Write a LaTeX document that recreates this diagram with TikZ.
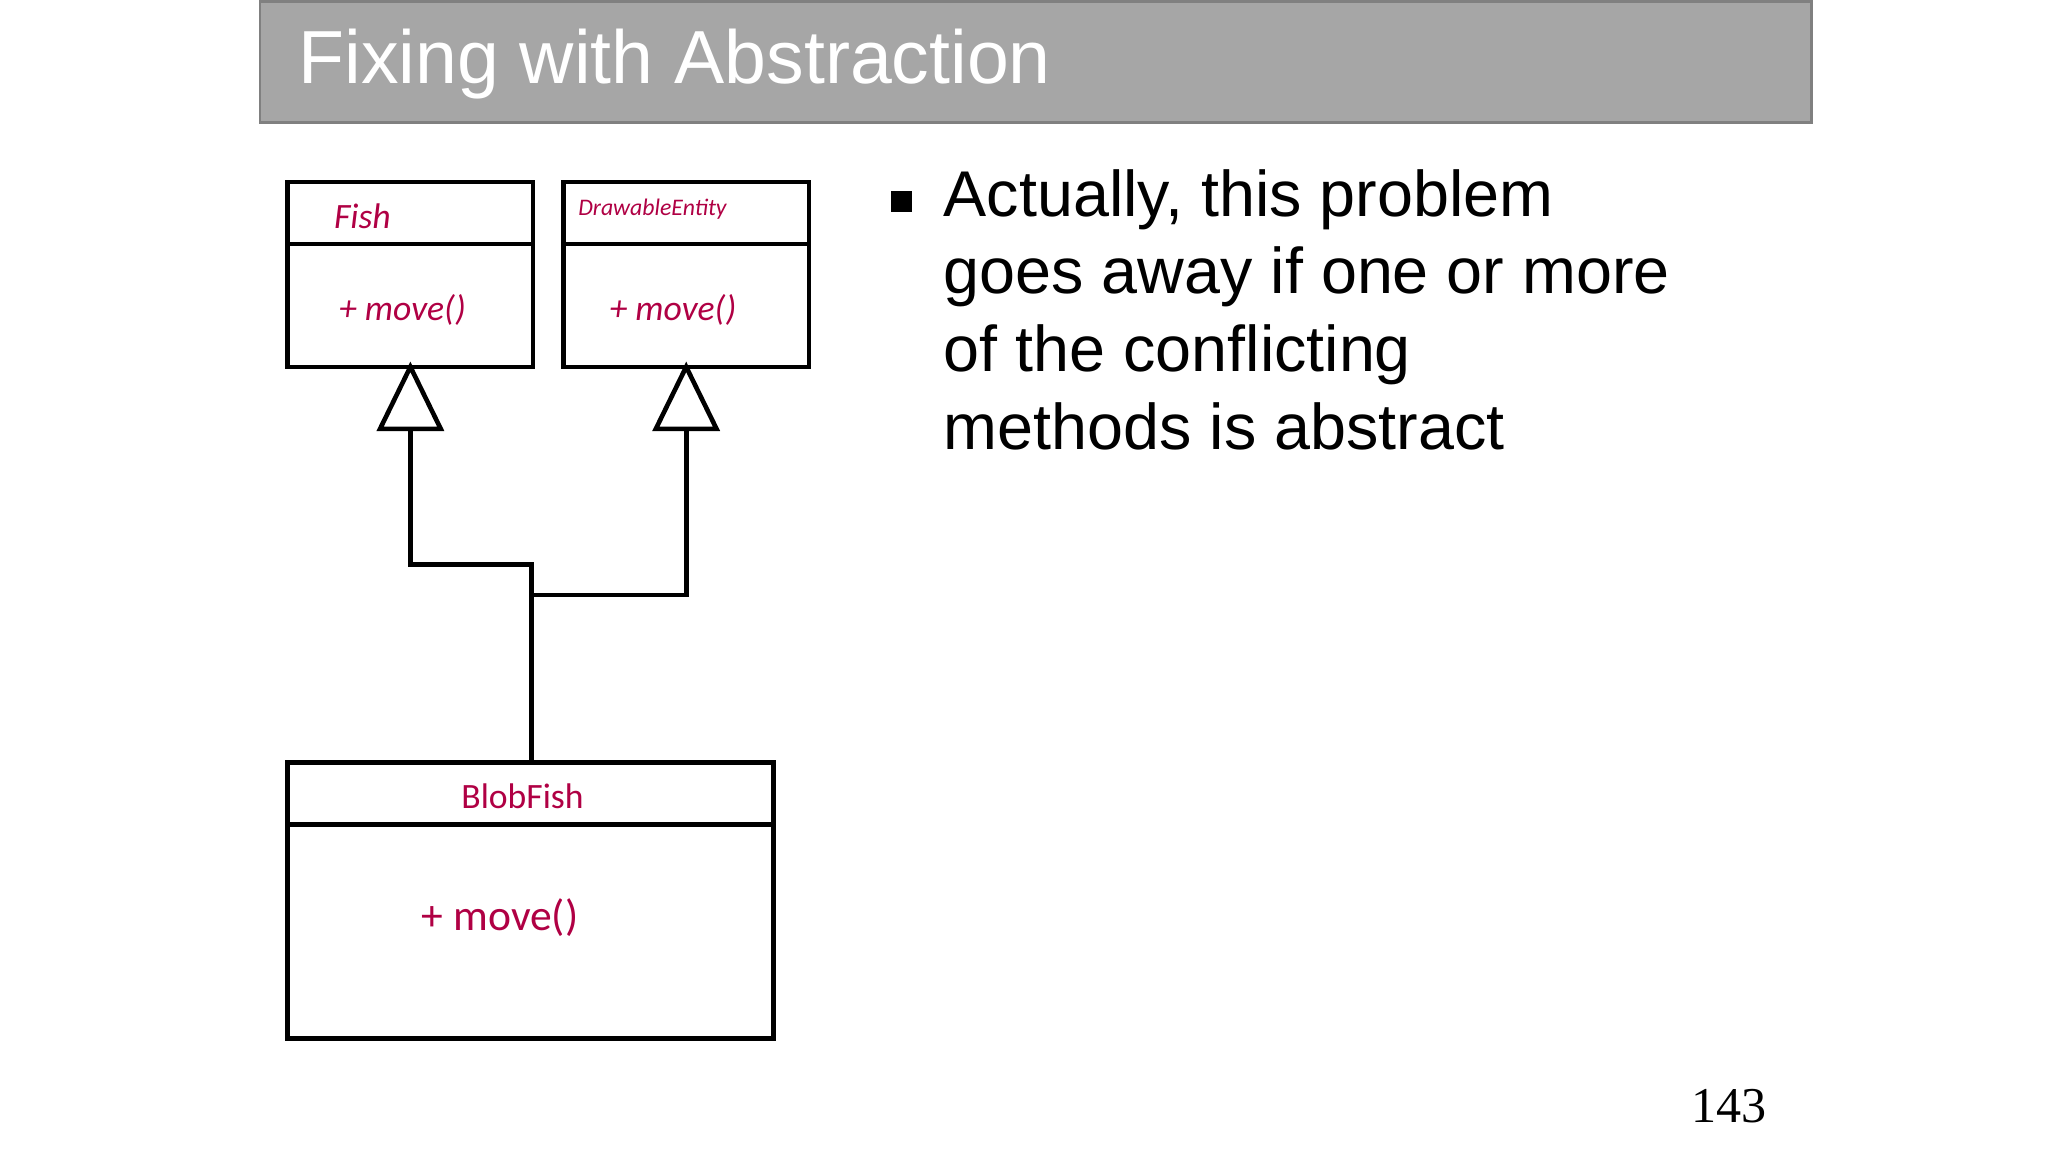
\documentclass[tikz,border=0pt]{standalone}
\usepackage{fontspec}
\setmainfont{Liberation Sans}
\newfontfamily\umlfont{Carlito}
\newfontfamily\serifnum{Liberation Serif}
\definecolor{umlred}{RGB}{176,0,68}
\definecolor{bar}{RGB}{166,166,166}
\definecolor{barline}{RGB}{128,128,128}
\begin{document}
\begin{tikzpicture}[x=1pt,y=-1pt,
  cls/.style={draw=black,line width=3.5pt,minimum width=#1,inner sep=0pt},
  lbl/.style={text=umlred,font=\umlfont,inner sep=0pt},
  conn/.style={draw=black,line width=3.5pt},
  tri/.style={draw=black,line width=3.5pt,fill=white,line join=miter}]
\useasboundingbox (0,0) rectangle (1552,873);
\fill[white] (0,0) rectangle (1552,873);
% title bar
\node[fill=bar,draw=barline,line width=2pt,minimum width=1176pt,minimum height=92pt,anchor=north west,inner sep=0pt] (bar) at (196,0) {};
\node[anchor=base west,text=white,font=\fontsize{57}{60}\selectfont,inner sep=0pt] (title) at (226,63) {Fixing with Abstraction};
% boxes
\draw[cls] (218,138) rectangle (404,278);
\draw[cls] (218,185) -- (404,185);
\draw[cls] (427,138) rectangle (613,278);
\draw[cls] (427,185) -- (613,185);
\draw[cls] (218,578) rectangle (586,787);
\draw[cls] (218,625) -- (586,625);
\coordinate (fishb) at (311,278);
\coordinate (drawb) at (520,278);
\coordinate (blobt) at (403,578);
\node[lbl,anchor=base west,font=\umlfont\itshape\fontsize{27}{30}\selectfont] (fishn) at (253,173) {Fish};
\node[lbl,anchor=base,font=\umlfont\itshape\fontsize{27}{30}\selectfont] (fishm) at (305,243) {+ move()};
\node[lbl,anchor=base west,font=\umlfont\itshape\fontsize{18}{20}\selectfont] (drawn) at (438,163) {DrawableEntity};
\node[lbl,anchor=base,font=\umlfont\itshape\fontsize{27}{30}\selectfont] (drawm) at (510,243) {+ move()};
\node[lbl,anchor=base,font=\umlfont\fontsize{27}{30}\selectfont] (blobn) at (396,613) {BlobFish};
\node[lbl,anchor=base,font=\umlfont\fontsize{33}{36}\selectfont] (blobm) at (379,705) {+ move()};
% connectors
\draw[conn] (blobt) -- (403,428) -- (311,428) -- (311,325);
\draw[conn] (403,451) -- (520,451) -- (520,325);
\draw[tri] (fishb) -- (334,325) -- (288,325) -- cycle;
\draw[tri] (drawb) -- (543,325) -- (497,325) -- cycle;
% bullet
\fill (675,145) rectangle (691,161);
\node[anchor=north west,align=left,inner sep=0pt,font=\fontsize{49}{59}\selectfont] (txt) at (715,128)
 {Actually, this problem\\goes away if one or more\\of the conflicting\\methods is abstract};
\node[anchor=base,font=\serifnum\fontsize{38}{40}\selectfont,inner sep=0pt] (pg) at (1310,851) {143};
\end{tikzpicture}
\end{document}
